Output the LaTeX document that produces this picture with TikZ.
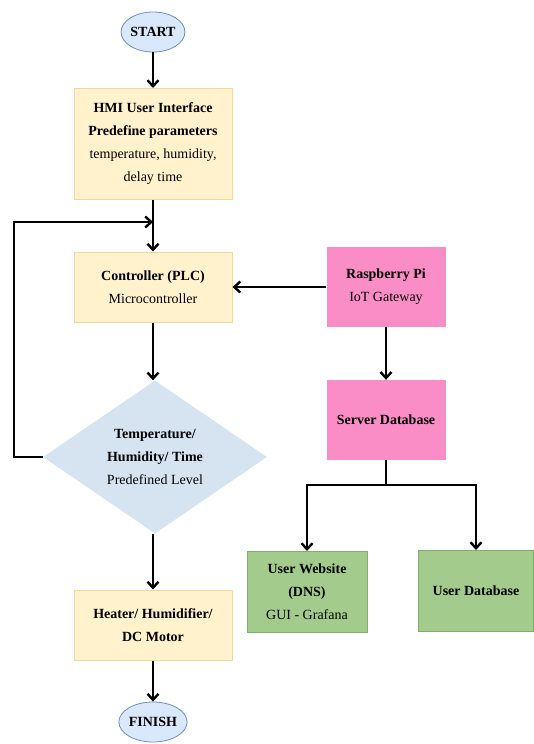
\documentclass[tikz,border=0pt]{standalone}
\usepackage{fontspec}
\setmainfont{Liberation Serif}
\usepackage{tikz}
\usetikzlibrary{arrows.meta}
\usetikzlibrary{shapes.geometric}
\usetikzlibrary{positioning}
\definecolor{boxyellow}{RGB}{255,242,204}
\definecolor{edgeyellow}{RGB}{242,216,150}
\definecolor{boxpink}{RGB}{250,140,198}
\definecolor{boxgreen}{RGB}{163,204,140}
\definecolor{edgegreen}{RGB}{128,175,108}
\definecolor{boxblue}{RGB}{214,228,242}
\definecolor{ovalblue}{RGB}{218,232,252}
\definecolor{edgeblue}{RGB}{108,142,191}

\begin{document}
\begin{tikzpicture}[x=1pt,y=-1pt,
		every node/.style={font=\fontsize{14}{23}\selectfont,align=center,inner sep=0pt},
		oval/.style={ellipse,draw=edgeblue,fill=ovalblue,line width=0.8pt,minimum width=62pt,minimum height=40pt},
		ybox/.style={rectangle,draw=edgeyellow,fill=boxyellow,line width=1pt,minimum width=158pt},
		pbox/.style={rectangle,fill=boxpink,minimum width=119pt,minimum height=80pt},
		gbox/.style={rectangle,draw=edgegreen,fill=boxgreen,line width=1pt,minimum height=81pt},
		check/.style={diamond,fill=boxblue,minimum width=224pt,minimum height=153pt},
		arr/.style={line width=2.4pt,-{Straight Barb[length=6pt,width=11pt]}},
		ln/.style={line width=2.4pt}]
		\useasboundingbox (0,0) rectangle (534,744);
		\node[oval] (start) at (153,32) {\textbf{START}};
		\node[ybox,minimum height=111pt] (hmi) at (153,144) {\textbf{HMI User Interface}\\\textbf{Predefine parameters}\\temperature, humidity,\\delay time};
		\node[ybox,minimum height=70pt] (plc) at (153,287) {\textbf{Controller (PLC)}\\Microcontroller};
		\node[check] (level) at (155,457) {\textbf{Temperature/}\\\textbf{Humidity/ Time}\\Predefined Level};
		\node[ybox,minimum height=70pt] (act) at (153,625) {\textbf{Heater/ Humidifier/}\\\textbf{DC Motor}};
		\node[oval] (finish) at (153,722) {\textbf{FINISH}};
		\node[pbox] (rpi) at (386,287) {\textbf{Raspberry Pi}\\IoT Gateway};
		\node[pbox] (server) at (386,420) {\textbf{Server Database}};
		\node[gbox,minimum width=120pt] (web) at (307,592) {\textbf{User Website}\\\textbf{(DNS)}\\GUI - Grafana};
		\node[gbox,minimum width=115pt] (userdb) at (476,591) {\textbf{User Database}};
		\coordinate (back) at (14,222);
		\coordinate (join) at (153,222);
		\coordinate (split) at (386,485);
		\draw[arr] (start) -- (hmi);
		\draw[arr] (hmi) -- (plc);
		\draw[arr] (plc.south) -- (plc.south |- level.north);
		\draw[arr] (act.north |- level.south) -- (act);
		\draw[arr] (act) -- (finish);
		\draw[arr] (level.west) -| (back) -- (join);
		\draw[arr] (rpi) -- (plc);
		\draw[arr] (rpi) -- (server);
		\draw[ln] (server) -- (split);
		\draw[arr] (split) -| (web);
		\draw[arr] (split) -| (userdb);
	\end{tikzpicture}
\end{document}
